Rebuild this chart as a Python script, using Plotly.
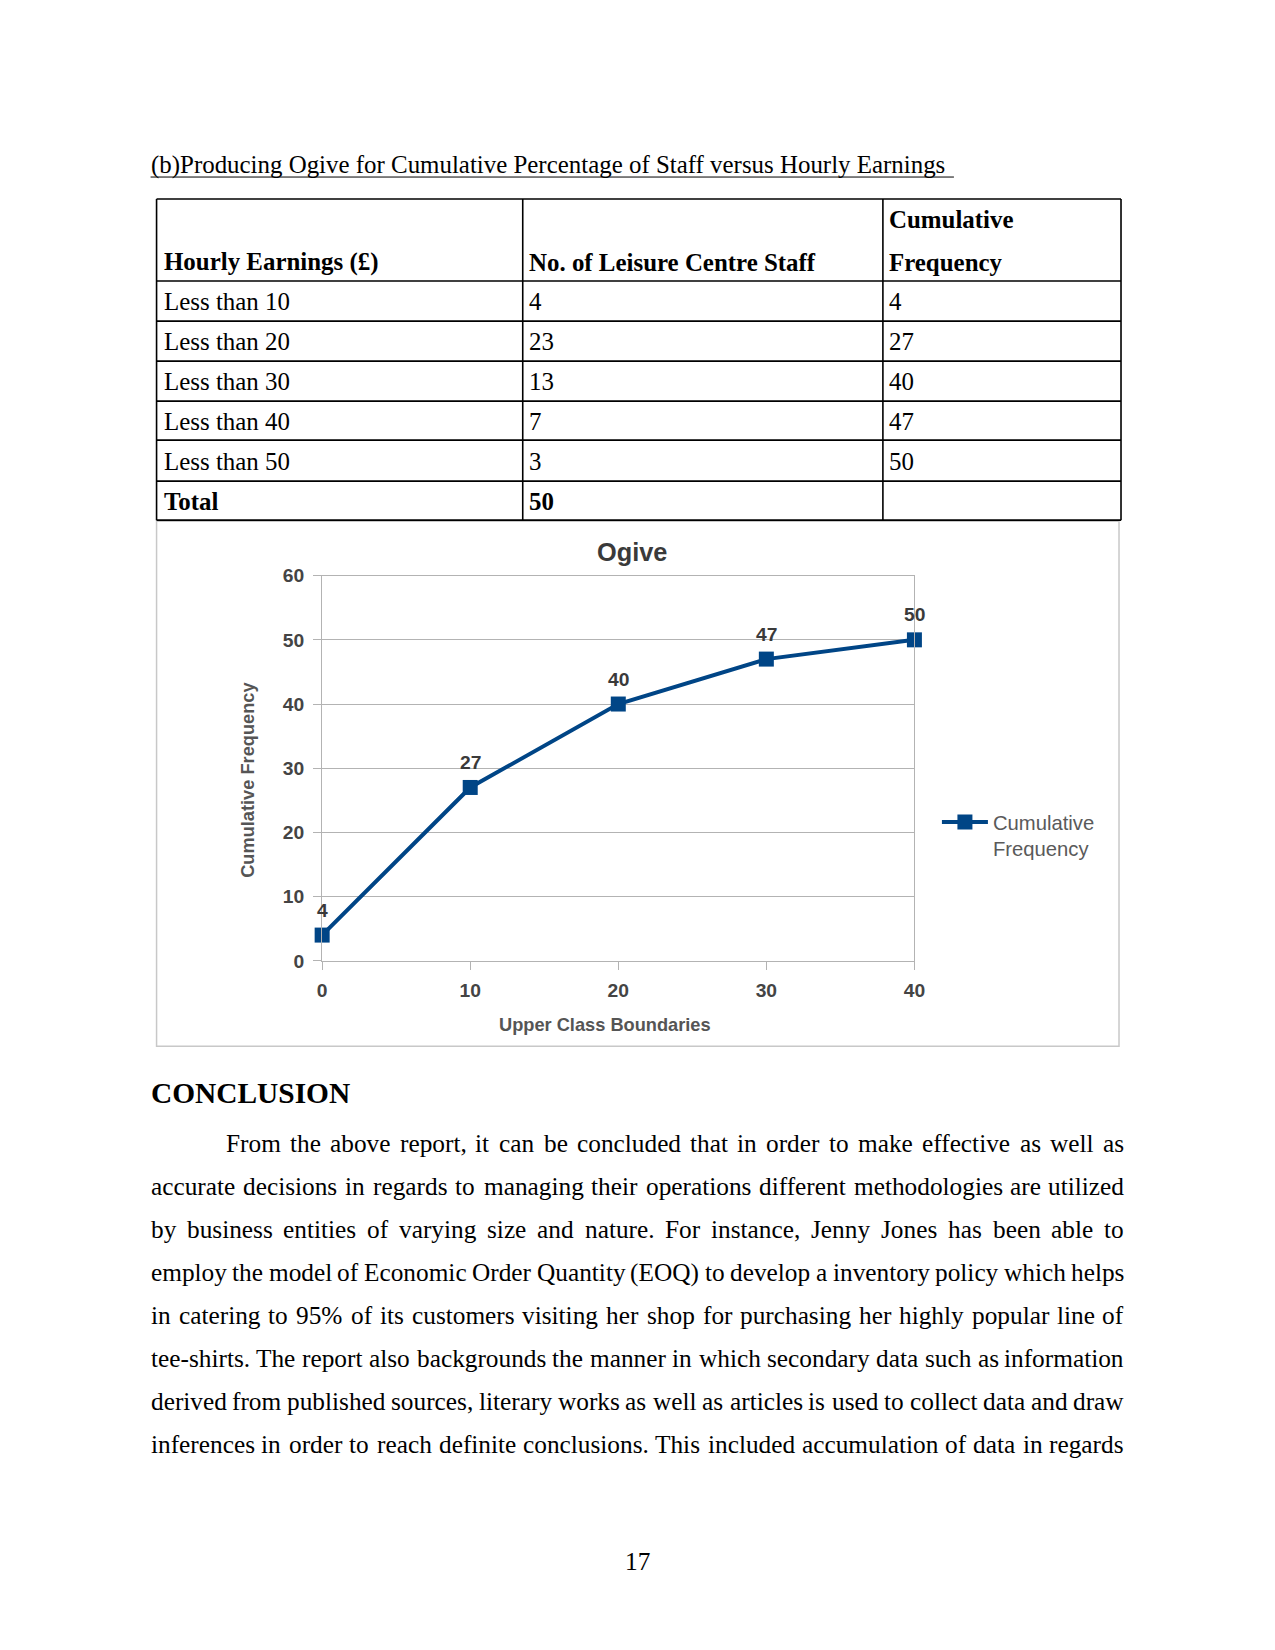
import plotly.graph_objects as go

# The page photo comes out slightly scaled and shifted relative to the figure
# pixels, so page positions are converted to figure positions here.
W, H = 1275, 1650
S = 0.987           # figure px -> page px scale
OX, OY = 4.5, 10.0  # page offset of the figure origin

# ---------------- data ----------------
upper_bounds = [0, 10, 20, 30, 40]
cum_freq = [4, 27, 40, 47, 50]

table_labels = ["Less than 10", "Less than 20", "Less than 30", "Less than 40", "Less than 50"]
staff_counts = [4, 23, 13, 7, 3]
table_cum = [4, 27, 40, 47, 50]
total_staff = 50

heading = "(b)Producing Ogive for Cumulative Percentage of Staff versus Hourly Earnings"
body_lines = [
    "From the above report, it can be concluded that in order to make effective as well as",
    "accurate decisions in regards to managing their operations different methodologies are utilized",
    "by business entities of varying size and nature. For instance, Jenny Jones has been able to",
    "employ the model of Economic Order Quantity (EOQ) to develop a inventory policy which helps",
    "in catering to 95% of its customers visiting her shop for purchasing her highly popular line of",
    "tee-shirts. The report also backgrounds the manner in which  secondary data such as information",
    "derived from published sources, literary works as well as articles is used to collect data and draw",
    "inferences in order to reach definite conclusions. This included accumulation of data in regards",
]
page_number = "17"

# ---------------- helpers ----------------
def px(x):
    return ((x - OX) / S) / W

def py(y):
    return 1 - ((y - OY) / S) / H

def fs(size):
    return size / S

SERIF = "Liberation Serif"
SANS = "Liberation Sans"
BLUE = "#004586"

# Times metrics (per 1000 em) for justification
TW = {' ': 250, '!': 333, '%': 833, '(': 333, ')': 333, ',': 250, '-': 333, '.': 250,
      ':': 278, ';': 278, "'": 333,
      'A': 722, 'B': 667, 'C': 667, 'D': 722, 'E': 611, 'F': 556, 'G': 722, 'H': 722,
      'I': 333, 'J': 389, 'K': 722, 'L': 611, 'M': 889, 'N': 722, 'O': 722, 'P': 556,
      'Q': 722, 'R': 667, 'S': 556, 'T': 611, 'U': 722, 'V': 722, 'W': 944, 'X': 722,
      'Y': 722, 'Z': 611,
      'a': 444, 'b': 500, 'c': 444, 'd': 500, 'e': 444, 'f': 333, 'g': 500, 'h': 500,
      'i': 278, 'j': 278, 'k': 500, 'l': 278, 'm': 778, 'n': 500, 'o': 500, 'p': 500,
      'q': 500, 'r': 333, 's': 389, 't': 278, 'u': 500, 'v': 500, 'w': 722, 'x': 500,
      'y': 500, 'z': 444}
for d in "0123456789":
    TW[d] = 500

def word_w(w, size):
    return sum(TW.get(c, 500) for c in w) * size / 1000.0

annotations = []
shapes = []

def text(x, y, s, size=25, family=SERIF, color="#000", xanchor="left", yanchor="middle",
         angle=0, weight="normal"):
    annotations.append(dict(x=px(x), y=py(y), xref="paper", yref="paper", text=s,
                            showarrow=False, xanchor=xanchor, yanchor=yanchor,
                            textangle=angle, borderpad=0, borderwidth=0,
                            font=dict(family=family, size=fs(size), color=color, weight=weight)))

def hline(x0, x1, y, color="#000", width=1.5):
    shapes.append(dict(type="line", xref="paper", yref="paper", x0=px(x0), x1=px(x1),
                       y0=py(y), y1=py(y), line=dict(color=color, width=width)))

def vline(x, y0, y1, color="#000", width=1.5):
    shapes.append(dict(type="line", xref="paper", yref="paper", x0=px(x), x1=px(x),
                       y0=py(y0), y1=py(y1), line=dict(color=color, width=width)))

# ---------------- heading ----------------
text(150, 165, heading, size=24.6)
hline(150, 953, 177, width=1)

# ---------------- table ----------------
tx = [156, 522, 882, 1120]
ty = [199, 281, 321, 361, 401, 440, 481, 520]
for y in ty:
    hline(tx[0], tx[-1], y, width=1.6)
for x in tx:
    vline(x, ty[0], ty[-1], width=1.6)

TS = 24.6
text(163, 262, "<b>Hourly Earnings (£)</b>", size=TS)
text(528, 262, "<b>No. of Leisure Centre Staff</b>", size=TS)
text(888, 219, "<b>Cumulative</b>", size=TS)
text(888, 262, "<b>Frequency</b>", size=TS)
row_y = [301, 341, 381, 421, 461]
for lab, n, c, y in zip(table_labels, staff_counts, table_cum, row_y):
    text(163, y, lab, size=TS)
    text(528, y, str(n), size=TS)
    text(888, y, str(c), size=TS)
text(163, 501, "<b>Total</b>", size=TS)
text(528, 501, "<b>%d</b>" % total_staff, size=TS)

# ---------------- chart frame ----------------
shapes.append(dict(type="rect", xref="paper", yref="paper", x0=px(156), x1=px(1118),
                   y0=py(1046), y1=py(521), line=dict(color="#c8c8c8", width=1.5),
                   layer="below"))

# chart texts
text(631, 552, "Ogive", size=25, family=SANS, color="#3a3a3a", xanchor="center", weight="bold")
text(247, 780, "Cumulative Frequency", size=18, family=SANS, color="#555", xanchor="center",
     angle=-90, weight="bold")
text(604, 1024, "Upper Class Boundaries", size=18, family=SANS, color="#555", xanchor="center",
     weight="bold")

# data labels placed through the data axes
for xv, yv in zip(upper_bounds, cum_freq):
    annotations.append(dict(x=xv, y=yv, xref="x", yref="y", text=str(yv), showarrow=False,
                            xanchor="center", yanchor="middle", yshift=25,
                            borderpad=0, borderwidth=0,
                            font=dict(family=SANS, size=fs(19), color="#3a3a3a", weight="bold")))

# ---------------- conclusion ----------------
text(150, 1093, "<b>CONCLUSION</b>", size=29)

line_y = [1143, 1186, 1229, 1272, 1315, 1358, 1401, 1444]
LEFT, RIGHT = 150, 1123
for i, (ln, y) in enumerate(zip(body_lines, line_y)):
    start = 225 if i == 0 else LEFT
    words = ln.split()
    total = sum(word_w(w, 25) for w in words)
    gap = (RIGHT - start - total) / (len(words) - 1)
    x = start
    for j, w in enumerate(words):
        if j == len(words) - 1:
            text(RIGHT, y, w, size=25, xanchor="right")
        else:
            text(x, y, w, size=25)
        x += word_w(w, 25) + gap

text(637, 1561, page_number, size=25, xanchor="center")

# ---------------- figure ----------------
fig = go.Figure()
fig.add_trace(go.Scatter(
    x=upper_bounds, y=cum_freq, mode="lines+markers",
    name="Cumulative<br>Frequency",
    line=dict(color=BLUE, width=4),
    marker=dict(symbol="square", size=15, color=BLUE),
    cliponaxis=False,
))

fig.update_layout(
    width=W, height=H,
    margin=dict(l=0, r=0, t=0, b=0),
    paper_bgcolor="white", plot_bgcolor="white",
    showlegend=True,
    legend=dict(x=px(936), y=py(802), xanchor="left", yanchor="top", valign="top",
                font=dict(family=SANS, size=fs(20), color="#5a5a5a"), bgcolor="rgba(0,0,0,0)",
                itemwidth=46),
    xaxis=dict(domain=[px(321.5), px(913.5)], range=[0, 40], tickvals=upper_bounds,
               showgrid=False, zeroline=False, showline=True, mirror=True,
               linecolor="#b3b3b3", linewidth=1, ticks="outside", ticklen=8,
               tickcolor="#b3b3b3", ticklabelstandoff=4,
               tickfont=dict(family=SANS, size=fs(19), color="#444", weight="bold")),
    yaxis=dict(domain=[py(960.5), py(575.5)], range=[0, 60], dtick=10,
               showgrid=True, gridcolor="#b3b3b3", gridwidth=1, zeroline=False,
               showline=True, mirror=True, linecolor="#b3b3b3", linewidth=1,
               ticks="outside", ticklen=8, tickcolor="#b3b3b3", ticklabelstandoff=5,
               tickfont=dict(family=SANS, size=fs(19), color="#444", weight="bold")),
    annotations=annotations,
    shapes=shapes,
)

fig.write_html("out.html")
